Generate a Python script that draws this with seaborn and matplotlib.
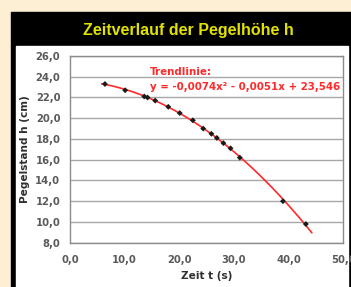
import matplotlib
matplotlib.use('Agg')
import matplotlib.pyplot as plt
from matplotlib.patches import Rectangle
from matplotlib.ticker import FuncFormatter, MultipleLocator
import seaborn as sns
import pandas as pd

zeit = [6.4, 10.1, 13.6, 14.2, 15.6, 18.0, 20.1, 22.5, 24.4, 25.9, 26.9, 28.1, 29.4, 31.1, 39.0, 43.2]
pegel = [23.3, 22.7, 22.1, 22.0, 21.7, 21.1, 20.5, 19.8, 19.0, 18.5, 18.1, 17.6, 17.1, 16.2, 12.0, 9.8]
# range the trendline is drawn over
trend_von, trend_bis = 5.8, 44.3

df = pd.DataFrame({'t': zeit, 'h': pegel})

sns.set_theme(style='white')
plt.rcParams['font.family'] = ['DejaVu Sans']

W, H = 351, 287
fig = plt.figure(figsize=(W / 100, H / 100), dpi=100)
fig.patch.set_facecolor('#fcefd3')

def px(x0, y0, x1, y1):
    # pixel box (top-left origin) -> figure fraction rect
    return (x0 / W, 1 - y1 / H), (x1 - x0) / W, (y1 - y0) / H

(xy, w, h) = px(11, 12, 351, 287)
fig.patches.append(Rectangle(xy, w, h, transform=fig.transFigure, color='black', zorder=-2))
(xy, w, h) = px(16, 46, 348, 287)
fig.patches.append(Rectangle(xy, w, h, transform=fig.transFigure, color='white', zorder=-1))

fig.text(188 / W, 1 - 31 / H, 'Zeitverlauf der Pegelhöhe h', color='#e2e200',
         fontsize=11.5, fontweight='bold', ha='center', va='center',
         family=['Liberation Sans', 'DejaVu Sans'])

ax = fig.add_axes([70 / W, 1 - 242.7 / H, 273 / W, 186.7 / H])
ax.set_facecolor('white')

# quadratic trendline, drawn a bit past the data like the spreadsheet does
ax.set_xlim(trend_von, trend_bis)
sns.regplot(data=df, x='t', y='h', order=2, ci=None, scatter=False, truncate=False, ax=ax,
            line_kws={'color': '#ff2a2a', 'lw': 1.2, 'zorder': 3})
sns.scatterplot(data=df, x='t', y='h', ax=ax, color='#1a1a1a', marker='D', s=9,
                edgecolor='none', zorder=4)

ax.set_xlim(0, 50)
ax.set_ylim(8, 26)
ax.xaxis.set_major_locator(MultipleLocator(10))
ax.yaxis.set_major_locator(MultipleLocator(2))
fmt = FuncFormatter(lambda v, p: f'{v:.1f}'.replace('.', ','))
ax.xaxis.set_major_formatter(fmt)
ax.yaxis.set_major_formatter(fmt)

ax.grid(axis='y', color='#a8a8a8', lw=1.0)
ax.set_axisbelow(True)
for s in ax.spines.values():
    s.set_color('#8c8c8c')
    s.set_linewidth(1.0)

ax.tick_params(axis='both', labelsize=7.2, colors='#8c8c8c', labelcolor='#5a5a5a',
               length=2.5, width=0.8, direction='out')
ax.tick_params(axis='x', pad=6.5)
ax.tick_params(axis='y', pad=4.5)
for lab in ax.get_xticklabels() + ax.get_yticklabels():
    lab.set_fontweight('bold')

ax.set_xlabel('Zeit t (s)', fontsize=7.6, fontweight='bold', color='#303030', labelpad=4)
ax.set_ylabel('Pegelstand h (cm)', fontsize=7.6, fontweight='bold', color='#303030', labelpad=4)

ax.text(14.6, 24.15, 'Trendlinie:', color='#ff2a2a', fontsize=7.4, fontweight='bold')
ax.text(14.6, 22.7, 'y = -0,0074x² - 0,0051x + 23,546', color='#ff2a2a',
        fontsize=7.4, fontweight='bold')

fig.savefig('out.png', dpi=100, facecolor=fig.get_facecolor())
